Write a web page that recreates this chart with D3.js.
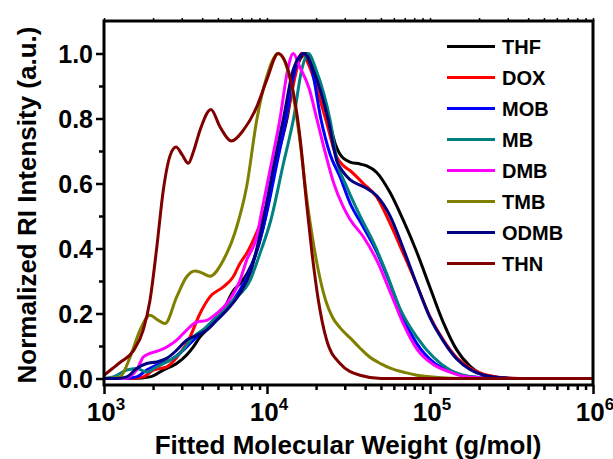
<!DOCTYPE html>
<html>
<head>
<meta charset="utf-8">
<script src="https://cdn.jsdelivr.net/npm/d3@7/dist/d3.min.js"></script>
<style>
  html, body { margin: 0; padding: 0; background: #fff; }
  svg { display: block; font-family: Arial, "Liberation Sans", Helvetica, sans-serif; }
</style>
</head>
<body>
<svg id="chart" width="613" height="459"></svg>
<script>
// Series: [log10(molecular weight), normalized RI intensity]
const THF = [[3.0,0],[3.18,0],[3.282,.005],[3.364,.026],[3.446,.046],[3.507,.072],[3.548,.097],[3.589,.128],[3.65,.159],[3.732,.21],[3.793,.27],[3.834,.292],[3.88,.325],[3.93,.38],[3.97,.45],[4.0,.52],[4.06,.67],[4.123,.8],[4.178,.95],[4.24,1.0],[4.285,.95],[4.38,.795],[4.42,.72],[4.448,.69],[4.509,.666],[4.571,.66],[4.612,.654],[4.673,.634],[4.755,.572],[4.836,.487],[4.918,.39],[5.0,.28],[5.082,.172],[5.164,.088],[5.245,.038],[5.307,.016],[5.409,.004],[5.5,0],[6.0,0]];
const DOX = [[3.0,0],[3.16,0],[3.241,.005],[3.302,.026],[3.385,.036],[3.466,.077],[3.528,.128],[3.589,.2],[3.65,.251],[3.732,.282],[3.793,.313],[3.834,.354],[3.875,.385],[3.937,.45],[3.99,.52],[4.04,.63],[4.1,.76],[4.14,.85],[4.182,.95],[4.212,1.0],[4.26,.96],[4.33,.85],[4.37,.78],[4.42,.69],[4.468,.655],[4.509,.64],[4.591,.6],[4.673,.559],[4.755,.477],[4.836,.385],[4.918,.29],[5.0,.19],[5.082,.118],[5.164,.064],[5.245,.032],[5.307,.017],[5.409,.005],[5.55,0],[6.0,0]];
const MOB = [[3.0,0],[3.118,0],[3.2,.005],[3.262,.026],[3.323,.041],[3.405,.056],[3.487,.087],[3.548,.118],[3.63,.159],[3.712,.2],[3.793,.241],[3.834,.272],[3.9,.34],[3.994,.5],[4.06,.66],[4.117,.8],[4.172,.95],[4.225,1.0],[4.276,.95],[4.33,.8],[4.387,.69],[4.448,.62],[4.509,.54],[4.591,.466],[4.673,.39],[4.755,.292],[4.836,.185],[4.918,.108],[5.02,.05],[5.123,.022],[5.2,.009],[5.3,.003],[5.5,0],[6.0,0]];
const MB = [[3.0,0],[3.057,.005],[3.139,.026],[3.2,.031],[3.262,.02],[3.323,.036],[3.385,.051],[3.466,.077],[3.548,.128],[3.63,.159],[3.712,.2],[3.793,.241],[3.896,.302],[3.957,.385],[4.025,.49],[4.1,.66],[4.163,.8],[4.213,.95],[4.253,1.0],[4.301,.95],[4.387,.795],[4.434,.66],[4.489,.59],[4.571,.5],[4.652,.42],[4.734,.323],[4.816,.215],[4.918,.128],[5.02,.066],[5.123,.026],[5.204,.01],[5.3,.003],[5.5,0],[6.0,0]];
const DMB = [[3.0,0],[3.118,0],[3.2,.026],[3.241,.066],[3.282,.077],[3.344,.087],[3.385,.097],[3.446,.118],[3.507,.149],[3.569,.174],[3.63,.179],[3.691,.2],[3.753,.231],[3.834,.302],[3.875,.364],[3.937,.436],[3.97,.52],[4.03,.67],[4.08,.8],[4.127,.95],[4.161,1.0],[4.2,.96],[4.26,.89],[4.305,.8],[4.36,.69],[4.41,.6],[4.468,.528],[4.509,.49],[4.591,.436],[4.673,.364],[4.755,.267],[4.836,.169],[4.918,.092],[5.02,.043],[5.123,.02],[5.204,.007],[5.3,.002],[5.5,0],[6.0,0]];
const TMB = [[3.0,0],[3.098,.005],[3.16,.066],[3.221,.149],[3.282,.195],[3.33,.18],[3.374,.169],[3.446,.251],[3.507,.313],[3.558,.331],[3.6,.325],[3.65,.315],[3.732,.364],[3.814,.466],[3.875,.59],[3.937,.795],[3.998,.928],[4.04,.985],[4.065,1.0],[4.1,.985],[4.15,.9],[4.2,.74],[4.25,.53],[4.28,.43],[4.32,.32],[4.36,.24],[4.4,.19],[4.45,.155],[4.51,.125],[4.57,.094],[4.63,.066],[4.7,.045],[4.76,.031],[4.85,.018],[4.92,.01],[5.05,.003],[5.2,0],[6.0,0]];
const ODMB = [[3.0,0],[3.078,0],[3.139,.005],[3.2,.031],[3.262,.046],[3.323,.051],[3.385,.062],[3.446,.087],[3.507,.118],[3.569,.133],[3.63,.149],[3.691,.179],[3.753,.21],[3.834,.262],[3.9,.33],[3.982,.5],[4.04,.65],[4.101,.8],[4.161,.95],[4.227,1.0],[4.282,.95],[4.376,.795],[4.428,.67],[4.468,.635],[4.509,.612],[4.571,.595],[4.612,.585],[4.673,.562],[4.755,.5],[4.836,.4],[4.918,.29],[5.0,.187],[5.082,.115],[5.164,.06],[5.245,.028],[5.33,.01],[5.45,.002],[5.55,0],[6.0,0]];
const THN = [[3.0,.01],[3.05,.03],[3.1,.05],[3.18,.085],[3.241,.15],[3.282,.24],[3.323,.4],[3.364,.58],[3.405,.685],[3.442,.712],[3.48,.688],[3.517,.662],[3.55,.7],[3.589,.764],[3.656,.828],[3.712,.774],[3.783,.731],[3.855,.764],[3.937,.836],[3.998,.918],[4.069,1.0],[4.141,.928],[4.202,.743],[4.243,.538],[4.274,.395],[4.315,.241],[4.366,.118],[4.448,.046],[4.571,.01],[4.7,0],[6.0,0]];

const seriesNames = ["THF", "DOX", "MOB", "MB", "DMB", "TMB", "ODMB", "THN"];
const seriesData = [THF, DOX, MOB, MB, DMB, TMB, ODMB, THN];
const seriesColors = ["#000000", "#ff0000", "#0000ff", "#008080", "#ff00ff", "#808000", "#000080", "#800000"];

const xMajorTicks = [1e3, 1e4, 1e5, 1e6];
const xTickExponents = ["3", "4", "5", "6"];
const yMajorTicks = [0, 0.2, 0.4, 0.6, 0.8, 1.0];
const yTickLabels = ["0.0", "0.2", "0.4", "0.6", "0.8", "1.0"];
const yMinorTicks = [0.1, 0.3, 0.5, 0.7, 0.9];

const xTitle = "Fitted Molecular Weight (g/mol)";
const yTitle = "Normalized RI Intensity (a.u.)";

(function draw() {
  // Plot frame in pixels
  const plotLeft = 104, plotRight = 593, plotTop = 21, plotBottom = 385;
  const svg = d3.select("#chart");

  const x = d3.scaleLog().domain([1e3, 1e6]).range([plotLeft, plotRight]);
  const y = d3.scaleLinear().domain([-0.02, 1.1]).range([plotBottom, plotTop]);

  // minor ticks 2..9 x 10^n
  const xMinorTicks = [];
  [1e3, 1e4, 1e5].forEach(d => { for (let k = 2; k <= 9; k++) xMinorTicks.push(d * k); });

  svg.append("defs").append("clipPath").attr("id", "plotClip")
    .append("rect").attr("x", plotLeft).attr("y", plotTop)
    .attr("width", plotRight - plotLeft).attr("height", plotBottom - plotTop);

  // Curves
  const line = d3.line()
    .x(d => x(Math.pow(10, d[0])))
    .y(d => y(d[1]))
    .curve(d3.curveMonotoneX);

  const curves = svg.append("g").attr("clip-path", "url(#plotClip)");
  seriesData.forEach((s, i) => {
    curves.append("path")
      .datum(s)
      .attr("d", line)
      .attr("fill", "none")
      .attr("stroke", seriesColors[i])
      .attr("stroke-width", 3)
      .attr("stroke-linejoin", "round");
  });

  // Frame
  svg.append("rect")
    .attr("x", plotLeft).attr("y", plotTop)
    .attr("width", plotRight - plotLeft).attr("height", plotBottom - plotTop)
    .attr("fill", "none").attr("stroke", "#000").attr("stroke-width", 3);

  // Bottom axis
  const xAxisG = svg.append("g").attr("transform", `translate(0,${plotBottom})`);
  xAxisG.call(d3.axisBottom(x).tickValues(xMajorTicks).tickSize(9).tickFormat(() => ""));
  xAxisG.append("g").call(d3.axisBottom(x).tickValues(xMinorTicks).tickSize(5).tickFormat(() => ""));
  xAxisG.selectAll(".domain").remove();
  xAxisG.selectAll("line").attr("stroke", "#000").attr("stroke-width", 2.5);

  // Top axis (small outward ticks)
  const xTopG = svg.append("g").attr("transform", `translate(0,${plotTop})`);
  xTopG.call(d3.axisTop(x).tickValues(xMajorTicks.concat(xMinorTicks)).tickSize(3).tickFormat(() => ""));
  xTopG.selectAll(".domain").remove();
  xTopG.selectAll("line").attr("stroke", "#000").attr("stroke-width", 1.5);

  // X tick labels: 10 with superscript exponent
  const xLabels = svg.append("g");
  xMajorTicks.forEach((v, i) => {
    const t = xLabels.append("text")
      .attr("x", x(v) + 2).attr("y", 421)
      .attr("text-anchor", "middle")
      .attr("font-size", 26).attr("font-weight", "bold").attr("fill", "#000");
    t.append("tspan").text("10");
    t.append("tspan").attr("font-size", 17).attr("dy", -11).text(xTickExponents[i]);
  });

  // Left axis
  const yAxisG = svg.append("g").attr("transform", `translate(${plotLeft},0)`);
  yAxisG.call(d3.axisLeft(y).tickValues(yMajorTicks).tickSize(8).tickFormat(() => ""));
  yAxisG.append("g").call(d3.axisLeft(y).tickValues(yMinorTicks).tickSize(5).tickFormat(() => ""));
  yAxisG.selectAll(".domain").remove();
  yAxisG.selectAll("line").attr("stroke", "#000").attr("stroke-width", 2.5);

  const yLabels = svg.append("g");
  yMajorTicks.forEach((v, i) => {
    yLabels.append("text")
      .attr("x", 93).attr("y", y(v))
      .attr("dy", "0.36em")
      .attr("text-anchor", "end")
      .attr("font-size", 25).attr("font-weight", "bold").attr("fill", "#000")
      .text(yTickLabels[i]);
  });

  // Axis titles
  svg.append("text")
    .attr("x", 348).attr("y", 454)
    .attr("text-anchor", "middle")
    .attr("font-size", 26).attr("font-weight", "bold")
    .text(xTitle);

  svg.append("text")
    .attr("transform", `translate(36,205) rotate(-90)`)
    .attr("text-anchor", "middle")
    .attr("font-size", 26).attr("font-weight", "bold")
    .text(yTitle);

  // Legend
  const legend = svg.append("g");
  seriesNames.forEach((name, i) => {
    const ly = 46.5 + i * 31;
    legend.append("line")
      .attr("x1", 447).attr("x2", 495).attr("y1", ly).attr("y2", ly)
      .attr("stroke", seriesColors[i]).attr("stroke-width", 3);
    legend.append("text")
      .attr("x", 502).attr("y", ly).attr("dy", "0.36em")
      .attr("font-size", 20).attr("font-weight", "bold")
      .text(name);
  });
})();
</script>
</body>
</html>
